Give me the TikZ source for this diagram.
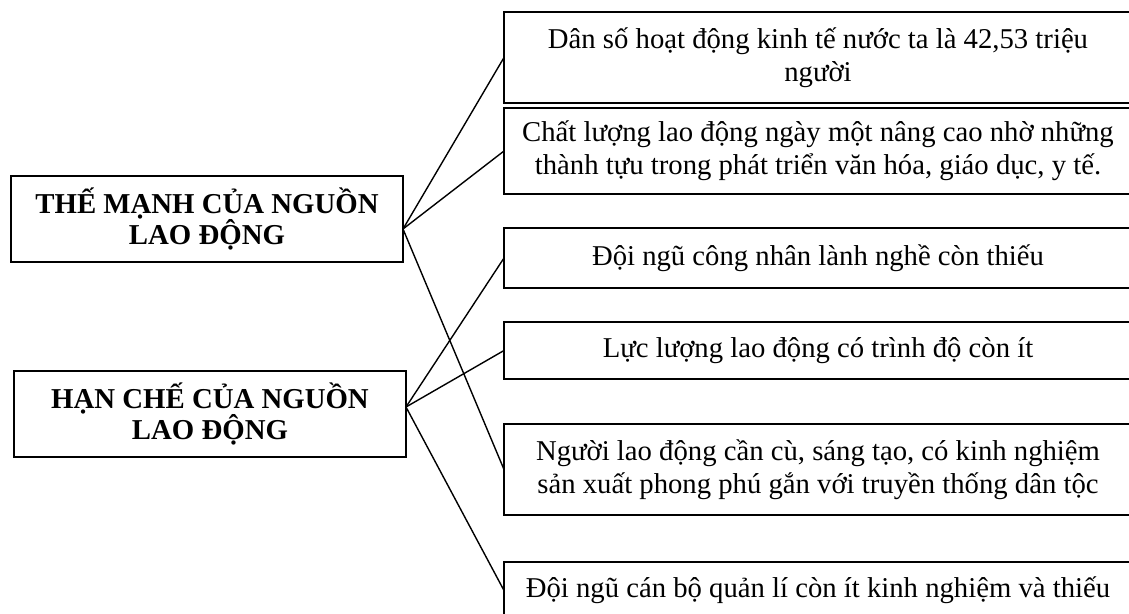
\documentclass[tikz,border=0pt]{standalone}
\usepackage{fontspec}
\setmainfont{Liberation Serif}
\usetikzlibrary{positioning}

\begin{document}
\begin{tikzpicture}[
  x=0.5pt, y=-0.5pt,
  node distance=17pt,
  side/.style={rectangle, draw=black, line width=1pt, inner sep=0pt, outer sep=0pt, minimum width=196pt, minimum height=43pt, align=center, font=\fontsize{14.4}{15.5}\selectfont\bfseries},
  item/.style={rectangle, draw=black, line width=1pt, inner sep=0pt, outer sep=0pt, minimum width=314pt, align=center, font=\fontsize{14.35}{16.5}\selectfont},
  link/.style={line width=0.7pt},
]
\clip (0,0) rectangle (1129,614);

% Left boxes
\node[side] (thmanh) at (207,219) {THẾ MẠNH CỦA NGUỒN\\LAO ĐỘNG};
\node[side] (hanche) at (210,414) {HẠN CHẾ CỦA NGUỒN\\LAO ĐỘNG};

% Right boxes
\node[item, minimum height=45.5pt] (danso) at (818,57.5) {Dân số hoạt động kinh tế nước ta là 42,53 triệu\\người};
\node[item, minimum height=43pt, below=2.5pt of danso] (chatluong) {Chất lượng lao động ngày một nâng cao nhờ những\\thành tựu trong phát triển văn hóa, giáo dục, y tế.};
\node[item, minimum height=30pt, below=of chatluong] (congnhan) {Đội ngũ công nhân lành nghề còn thiếu};
\node[item, minimum height=28.5pt, below=of congnhan] (lucluong) {Lực lượng lao động có trình độ còn ít};
\node[item, minimum height=45.5pt, below=22.5pt of lucluong] (nguoild) {Người lao động cần cù, sáng tạo, có kinh nghiệm\\sản xuất phong phú gắn với truyền thống dân tộc};
\node[item, minimum height=28.5pt, below=23.5pt of nguoild] (canbo) {Đội ngũ cán bộ quản lí còn ít kinh nghiệm và thiếu};

% Connections
\draw[link] ([yshift=-5pt]thmanh.east) -- (danso.west);
\draw[link] ([yshift=-5pt]thmanh.east) -- (chatluong.west);
\draw[link] ([yshift=-5pt]thmanh.east) -- (nguoild.west);
\draw[link] ([yshift=3.5pt]hanche.east) -- (congnhan.west);
\draw[link] ([yshift=3.5pt]hanche.east) -- (lucluong.west);
\draw[link] ([yshift=3.5pt]hanche.east) -- (canbo.west);

\end{tikzpicture}
\end{document}
